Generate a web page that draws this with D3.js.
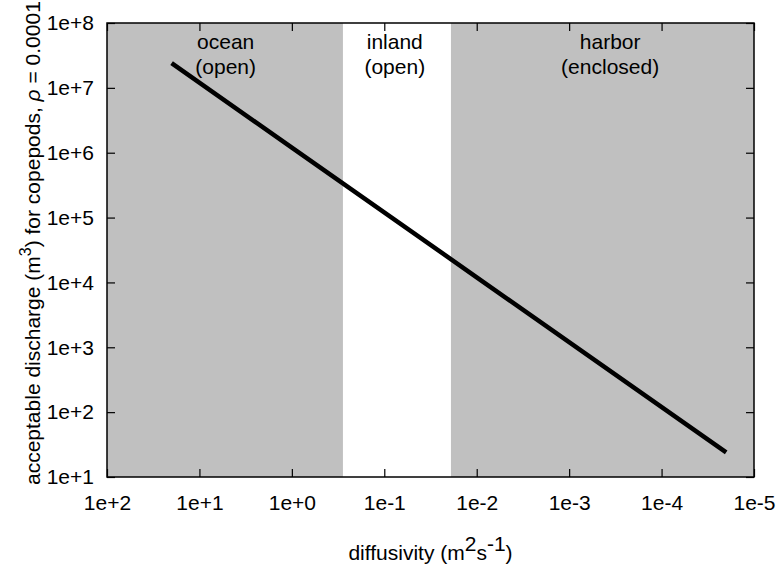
<!DOCTYPE html>
<html>
<head>
<meta charset="utf-8">
<script src="https://cdn.jsdelivr.net/npm/d3@7"></script>
<style>
  body { margin: 0; background: #fff; }
  text { font-family: "Liberation Sans", Arial, Helvetica, sans-serif; }
</style>
</head>
<body>
<div id="chart"></div>
<script>
// values
const xTicks = [1e2, 1e1, 1e0, 1e-1, 1e-2, 1e-3, 1e-4, 1e-5];
const yTicks = [1e1, 1e2, 1e3, 1e4, 1e5, 1e6, 1e7, 1e8];

// diffusivity (m2/s) vs acceptable discharge (m3)
const diffusivity = [20, 1, 0.01, 2e-5];
const discharge = [2.4e7, 1.2e6, 1.2e4, 24];

// shaded bands (diffusivity ranges)
const regionNames = ["ocean", "inland", "harbor"];
const regionSub = ["(open)", "(open)", "(enclosed)"];
const regionFrom = [1e2, 0.28, 0.019];
const regionTo = [0.28, 0.019, 1e-5];
const regionShaded = [true, false, true];
const regionLabelX = [5.2, 0.077, 3.6e-4];

const width = 778;
const height = 566;
const margin = { top: 23, right: 24, bottom: 89, left: 107 };

const svg = d3.select("#chart").append("svg")
    .attr("width", width)
    .attr("height", height);

const x = d3.scaleLog()
    .domain([1e2, 1e-5])
    .range([margin.left, width - margin.right]);

const y = d3.scaleLog()
    .domain([1e1, 1e8])
    .range([height - margin.bottom, margin.top]);

const fmt = d => {
    const e = Math.round(Math.log10(d));
    return "1e" + (e >= 0 ? "+" : "-") + Math.abs(e);
};

const regions = regionNames.map((name, i) => ({
    name: name,
    sub: regionSub[i],
    from: regionFrom[i],
    to: regionTo[i],
    shaded: regionShaded[i],
    lx: regionLabelX[i]
}));

// bands
svg.selectAll("rect.band")
    .data(regions)
    .join("rect")
    .attr("class", "band")
    .attr("x", d => x(d.from))
    .attr("y", margin.top)
    .attr("width", d => x(d.to) - x(d.from))
    .attr("height", y(1e1) - y(1e8))
    .attr("fill", d => d.shaded ? "#c0c0c0" : "#ffffff");

// axes with inward ticks, mirrored on top and right
const tickLen = 8;
const fontSize = 21;

const bottomAxis = svg.append("g")
    .attr("transform", `translate(0,${y(1e1)})`)
    .call(d3.axisBottom(x).tickValues(xTicks).tickFormat(fmt).tickSizeInner(-tickLen).tickSizeOuter(0).tickPadding(18));

const topAxis = svg.append("g")
    .attr("transform", `translate(0,${y(1e8)})`)
    .call(d3.axisTop(x).tickValues(xTicks).tickFormat("").tickSizeInner(-tickLen).tickSizeOuter(0));

const leftAxis = svg.append("g")
    .attr("transform", `translate(${x(1e2)},0)`)
    .call(d3.axisLeft(y).tickValues(yTicks).tickFormat(fmt).tickSizeInner(-tickLen).tickSizeOuter(0).tickPadding(13));

const rightAxis = svg.append("g")
    .attr("transform", `translate(${x(1e-5)},0)`)
    .call(d3.axisRight(y).tickValues(yTicks).tickFormat("").tickSizeInner(-tickLen).tickSizeOuter(0));

[bottomAxis, topAxis, leftAxis, rightAxis].forEach(g => {
    g.select(".domain").remove();
    g.selectAll(".tick line").attr("stroke", "#000").attr("stroke-width", 1.2);
    g.selectAll(".tick text")
        .attr("fill", "#000")
        .style("font-size", fontSize + "px")
        .style("font-family", "'Liberation Sans', Arial, sans-serif");
});

// frame
svg.append("rect")
    .attr("x", x(1e2))
    .attr("y", y(1e8))
    .attr("width", x(1e-5) - x(1e2))
    .attr("height", y(1e1) - y(1e8))
    .attr("fill", "none")
    .attr("stroke", "#000")
    .attr("stroke-width", 1.5);

// the line
const line = d3.line()
    .x(d => x(d[0]))
    .y(d => y(d[1]));

svg.append("path")
    .datum(diffusivity.map((d, i) => [d, discharge[i]]))
    .attr("d", line)
    .attr("fill", "none")
    .attr("stroke", "#000")
    .attr("stroke-width", 4.5);

// region labels
const labels = svg.selectAll("g.rlabel")
    .data(regions)
    .join("g")
    .attr("class", "rlabel");

labels.append("text")
    .attr("x", d => x(d.lx))
    .attr("y", 49)
    .attr("text-anchor", "middle")
    .style("font-size", fontSize + "px")
    .text(d => d.name);

labels.append("text")
    .attr("x", d => x(d.lx))
    .attr("y", 74)
    .attr("text-anchor", "middle")
    .style("font-size", fontSize + "px")
    .text(d => d.sub);

// x axis title
const xt = svg.append("text")
    .attr("x", (x(1e2) + x(1e-5)) / 2)
    .attr("y", 560)
    .attr("text-anchor", "middle")
    .style("font-size", fontSize + "px");
xt.append("tspan").text("diffusivity (m");
xt.append("tspan").attr("dy", -9).text("2");
xt.append("tspan").attr("dy", 9).text("s");
xt.append("tspan").attr("dy", -9).text("-1");
xt.append("tspan").attr("dy", 9).text(")");

// y axis title (rotated, runs off the top like the original)
const yt = svg.append("text")
    .attr("transform", "translate(40,485) rotate(-90)")
    .attr("text-anchor", "start")
    .style("font-size", fontSize + "px");
yt.append("tspan").text("acceptable discharge (m");
yt.append("tspan").attr("dy", -9).style("font-size", "16px").text("3");
yt.append("tspan").attr("dy", 9).text(") for copepods, ");
yt.append("tspan").style("font-style", "italic").text("\u03c1");
yt.append("tspan").text(" = 0.0001");
</script>
</body>
</html>
